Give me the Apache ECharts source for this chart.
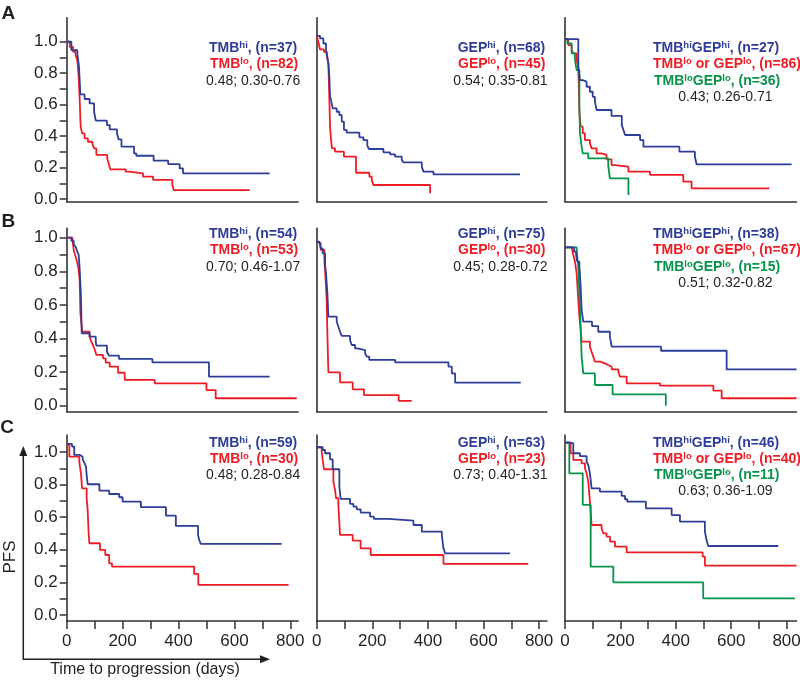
<!DOCTYPE html>
<html><head><meta charset="utf-8">
<script src="https://cdn.jsdelivr.net/npm/echarts@6/dist/echarts.min.js"></script>
<style>html,body{margin:0;padding:0;background:#fff}#c{width:800px;height:681px}</style>
</head><body><div id="c"></div>
<script>
// ---- tick values ----
const xTicks = [0,100,200,300,400,500,600,700,800];
const xTickLabels = [0,200,400,600,800];
const yTicks = [0,0.1,0.2,0.3,0.4,0.5,0.6,0.7,0.8,0.9,1.0];
const yTickLabels = [0,0.2,0.4,0.6,0.8,1.0];

// ---- Row A ----
const A1_hi = [[0,1.0],[16.7,0.947],[38,0.926],[44,0.841],[49,0.665],[64,0.636],[82,0.608],[98,0.555],[104,0.498],[144,0.470],[154,0.443],[180,0.417],[186,0.379],[196,0.333],[241,0.290],[249,0.275],[311,0.244],[363,0.222],[404,0.195],[416,0.163],[726,0.163]];
const A1_lo = [[0,1],[11,0.968],[23,0.936],[32,0.915],[38,0.883],[43,0.777],[46.5,0.629],[50,0.460],[55,0.417],[64,0.386],[76,0.364],[92,0.350],[98,0.322],[106,0.280],[145,0.258],[150,0.227],[156,0.189],[211,0.174],[223,0.163],[273,0.142],[309,0.121],[378,0.089],[383,0.057],[655,0.057]];
const A2_hi = [[0,1.038],[12,1.021],[24,0.989],[33.6,0.947],[38,0.894],[42,0.862],[45.6,0.778],[48,0.650],[51.6,0.629],[57.6,0.576],[72,0.555],[81.5,0.534],[90,0.492],[98,0.439],[108,0.422],[153.5,0.392],[168,0.375],[182,0.339],[188,0.318],[240,0.297],[264,0.284],[282,0.269],[306,0.248],[312,0.233],[378,0.206],[384,0.174],[420,0.157],[731,0.157]];
const A2_lo = [[0,1.038],[6,1.0],[12,0.951],[26,0.936],[36,0.926],[42,0.862],[45.6,0.629],[48,0.460],[51.6,0.375],[55,0.322],[66,0.301],[98,0.269],[141.5,0.167],[189.4,0.142],[198,0.121],[204,0.089],[408,0.036]];
const A3_hi = [[0,1.017],[48,0.841],[54,0.756],[64,0.746],[78,0.714],[90,0.682],[100,0.650],[108,0.619],[114,0.566],[168,0.528],[205,0.470],[211,0.439],[217,0.407],[271,0.375],[283,0.333],[413,0.301],[469,0.269],[475,0.220],[818,0.220]];
const A3_mix = [[0,1.017],[12,0.979],[24,0.947],[30,0.926],[42,0.883],[48,0.841],[52,0.544],[56.6,0.460],[64,0.417],[72,0.375],[90,0.354],[96,0.322],[114,0.290],[132,0.280],[150,0.252],[168,0.216],[180,0.206],[229,0.174],[307,0.153],[427,0.110],[457,0.068],[738,0.068]];
const A3_lo = [[0,1.017],[8.4,0.989],[24,0.926],[36,0.883],[42,0.820],[52,0.608],[54,0.417],[60,0.333],[64,0.290],[84,0.258],[156,0.216],[162,0.131],[229,0.025]];

// ---- Row B ----
const B1_hi = [[0,1.0],[16.7,0.982],[25,0.960],[32,0.946],[38,0.917],[43,0.897],[46.5,0.812],[51,0.649],[53.7,0.431],[82,0.411],[104,0.381],[106,0.357],[144,0.321],[151,0.298],[187,0.278],[306.5,0.258],[509,0.173],[726,0.173]];
const B1_lo = [[0,1],[20,0.990],[25,0.927],[32,0.887],[37,0.857],[42,0.817],[46.5,0.748],[49,0.550],[52.5,0.490],[56,0.440],[82,0.411],[88,0.381],[94,0.361],[101,0.331],[106,0.302],[130,0.282],[139.5,0.256],[154,0.232],[184,0.196],[207.5,0.153],[315,0.133],[500,0.093],[533,0.044],[823,0.044]];
const B2_hi = [[0,0.976],[9.6,0.970],[14.4,0.937],[21.6,0.907],[30,0.837],[33.6,0.788],[38.4,0.669],[42,0.530],[72,0.500],[78,0.470],[84,0.440],[90,0.415],[120,0.391],[126,0.361],[138,0.341],[146,0.331],[174,0.312],[180,0.292],[189,0.272],[282,0.258],[474,0.232],[486,0.192],[498,0.137],[734,0.137]];
const B2_lo = [[0,0.976],[6,0.966],[14.4,0.927],[27.6,0.867],[30,0.808],[36,0.629],[38.4,0.431],[42,0.198],[84,0.139],[129.5,0.097],[170,0.063],[295,0.028],[342,0.028]];
const B3_hi = [[0,0.942],[32.5,0.917],[40,0.897],[44.5,0.857],[52,0.827],[56.6,0.708],[60,0.569],[66,0.500],[97.5,0.474],[120,0.440],[162,0.411],[168.5,0.351],[346.6,0.327],[583.6,0.216],[836,0.216]];
const B3_mix = [[0,0.942],[24,0.937],[30,0.897],[36,0.857],[42,0.788],[48,0.629],[52,0.530],[56.6,0.450],[60,0.381],[90,0.351],[96,0.321],[102,0.292],[108,0.262],[126,0.252],[144,0.242],[156,0.232],[168.5,0.216],[192.5,0.202],[198.6,0.173],[222.6,0.133],[343,0.119],[535.5,0.089],[565.6,0.044],[836,0.044]];
const B3_lo = [[0,0.942],[42,0.927],[48,0.827],[54,0.589],[60,0.292],[66,0.192],[108,0.123],[172,0.067],[364,0.0]];

// ---- Row C ----
const C1_hi = [[0,1.049],[19,1.033],[27,0.982],[47.6,0.971],[57,0.955],[63,0.935],[69,0.910],[71.4,0.859],[75,0.802],[117,0.763],[152,0.742],[188,0.722],[200,0.695],[265.5,0.661],[355,0.609],[390.5,0.546],[470,0.491],[474,0.460],[480,0.436],[769,0.436]];
const C1_lo = [[0,1.043],[9.5,0.971],[45,0.941],[51,0.869],[55,0.777],[71.4,0.716],[75,0.644],[78.6,0.501],[81,0.440],[119,0.399],[138,0.368],[152,0.317],[162,0.297],[456,0.252],[471,0.184],[794,0.184]];
const C2_hi = [[0,1.029],[21.6,1.012],[30,0.992],[48,0.955],[57.6,0.894],[81.5,0.787],[86,0.712],[120,0.681],[132,0.665],[144,0.648],[158,0.628],[192,0.603],[206,0.589],[258,0.579],[348,0.552],[378,0.511],[450,0.491],[456,0.409],[462,0.378],[695,0.378]];
const C2_lo = [[0,1.029],[18,1.002],[21.6,0.951],[26,0.894],[60,0.818],[66,0.767],[69.5,0.716],[78,0.675],[84,0.491],[129.5,0.456],[158,0.409],[194,0.368],[456,0.313],[761,0.313]];
const C3_hi = [[0,1.057],[20.5,1.053],[30,0.992],[54,0.975],[78,0.941],[84,0.920],[90,0.869],[96,0.777],[126,0.757],[204.6,0.730],[216.6,0.710],[225,0.695],[292,0.654],[385,0.613],[415,0.573],[505,0.511],[511,0.460],[517,0.423],[770,0.423]];
const C3_mix = [[0,1.057],[20.5,0.992],[30,0.951],[60,0.930],[72,0.900],[78,0.869],[84,0.818],[90,0.695],[96,0.552],[132,0.532],[138,0.501],[150,0.481],[162.5,0.450],[180.5,0.419],[222.6,0.384],[497,0.358],[505,0.303],[836,0.303]];
const C3_lo = [[0,1.057],[15.6,0.869],[64,0.675],[92.7,0.297],[174.5,0.200],[499,0.102],[830,0.102]];

// ---- legend texts (^...^ = superscript) ----
const legendText = [
  ["TMB^hi^, (n=37)","TMB^lo^, (n=82)","0.48; 0.30-0.76"],
  ["GEP^hi^, (n=68)","GEP^lo^, (n=45)","0.54; 0.35-0.81"],
  ["TMB^hi^GEP^hi^, (n=27)","TMB^lo^ or GEP^lo^, (n=86)","TMB^lo^GEP^lo^, (n=36)","0.43; 0.26-0.71"],
  ["TMB^hi^, (n=54)","TMB^lo^, (n=53)","0.70; 0.46-1.07"],
  ["GEP^hi^, (n=75)","GEP^lo^, (n=30)","0.45; 0.28-0.72"],
  ["TMB^hi^GEP^hi^, (n=38)","TMB^lo^ or GEP^lo^, (n=67)","TMB^lo^GEP^lo^, (n=15)","0.51; 0.32-0.82"],
  ["TMB^hi^, (n=59)","TMB^lo^, (n=30)","0.48; 0.28-0.84"],
  ["GEP^hi^, (n=63)","GEP^lo^, (n=23)","0.73; 0.40-1.31"],
  ["TMB^hi^GEP^hi^, (n=46)","TMB^lo^ or GEP^lo^, (n=40)","TMB^lo^GEP^lo^, (n=11)","0.63; 0.36-1.09"]
];
const panelLetters = ["A","B","C"];
const yAxisTitle = "PFS";
const xAxisTitle = "Time to progression (days)";

const panelCurves = [
  [A1_lo, A1_hi],[A2_lo, A2_hi],[A3_mix, A3_lo, A3_hi],
  [B1_lo, B1_hi],[B2_lo, B2_hi],[B3_mix, B3_lo, B3_hi],
  [C1_lo, C1_hi],[C2_lo, C2_hi],[C3_mix, C3_lo, C3_hi]
];

const BLUE='#2E3D97', RED='#EE1C25', GREEN='#06934A', BLACK='#231F20', AX='#333333';
const FF = '"Liberation Sans", Arial, Helvetica, sans-serif';
const curveColors2 = [RED, BLUE], curveColors3 = [RED, GREEN, BLUE];

// layout
const colLeft = [66.7, 316.7, 565];
const colScale = [0.2795, 0.278, 0.277];
const xMax = [828, 828, 836];
const rowTop = [17.7, 228.3, 435];
const rowBottom = [201.7, 411.7, 621];
const yMin = [-0.0172, -0.036, -0.037];
const yMax = [1.153, 1.056, 1.104];
const legendX = [[209,210,206],[457.7,458,453.3],[653,653,654,678.3]];
const legendY = [[48,64.5,81,97],[234,250.5,267,283],[443,459.5,475.5,491.5]];

const grid=[], xAxis=[], yAxis=[], series=[], graphic=[];
for (let r=0;r<3;r++) for (let c=0;c<3;c++) {
  const idx = r*3+c;
  grid.push({left:colLeft[c], top:rowTop[r], width:xMax[c]*colScale[c], height:rowBottom[r]-rowTop[r], containLabel:false, outerBoundsMode:'none'});
  xAxis.push({gridIndex:idx, type:'value', min:0, max:xMax[c],
    axisLine:{show:true, onZero:false, lineStyle:{color:AX, width:1.6}},
    axisTick:{show:r===2, customValues:xTicks, length:8, lineStyle:{color:AX, width:1.5}},
    axisLabel:{show:r===2, customValues:xTickLabels, fontSize:17, color:BLACK, margin:12, fontFamily:FF},
    splitLine:{show:false}});
  yAxis.push({gridIndex:idx, type:'value', min:yMin[r], max:yMax[r],
    axisLine:{show:true, onZero:false, lineStyle:{color:AX, width:1.6}},
    axisTick:{show:c===0, customValues:yTicks, length:7, lineStyle:{color:AX, width:1.5}},
    axisLabel:{show:c===0, customValues:yTickLabels, fontSize:17, color:BLACK, margin:9, fontFamily:FF, formatter:v=>Number(v).toFixed(1)},
    splitLine:{show:false}});
  const curves = panelCurves[idx];
  const cols = curves.length===3 ? curveColors3 : curveColors2;
  curves.forEach((d,k)=>{
    series.push({type:'line', xAxisIndex:idx, yAxisIndex:idx, step:'end', data:d, symbol:'none', showSymbol:false,
      lineStyle:{color:cols[k], width:1.8}, itemStyle:{color:cols[k]}, silent:true, animation:false});
  });
  // legend text
  const lines = legendText[idx];
  const lcol = lines.length===4 ? [BLUE,RED,GREEN,BLACK] : [BLUE,RED,BLACK];
  const lx = legendX[c];
  lines.forEach((t,k)=>{
    const isHR = k===lines.length-1;
    const color = lcol[k];
    const parts = t.split('^');
    let s='';
    parts.forEach((p,j)=>{ if(p.length) s += (j%2===0? '{n|':'{s|') + p + '}'; });
    graphic.push({type:'text', x: lx[k], y: legendY[r][k], silent:true,
      style:{text:s, align:'left', verticalAlign:'middle', fontFamily:FF, fill:color,
        rich:{
          n:{fontSize:14, fontWeight:isHR?'normal':'bold', fill:color, fontFamily:FF, lineHeight:16},
          s:{fontSize:9.5, fontWeight:'bold', fill:color, fontFamily:FF, lineHeight:11, verticalAlign:'top'}
        }}});
  });
}

// panel letters
[[8.3,13.5],[8.3,221.5],[7,428]].forEach((p,i)=>{
  graphic.push({type:'text', x:p[0], y:p[1], silent:true,
    style:{text:panelLetters[i], fontSize:19, fontWeight:'bold', fill:BLACK, align:'center', verticalAlign:'middle', fontFamily:FF}});
});
// axis titles
graphic.push({type:'text', x:10.5, y:557, rotation:Math.PI/2, silent:true,
  style:{text:yAxisTitle, fontSize:17, fill:BLACK, align:'center', verticalAlign:'middle', fontFamily:FF}});
graphic.push({type:'text', x:145, y:670, silent:true,
  style:{text:xAxisTitle, fontSize:16, fill:BLACK, align:'center', verticalAlign:'middle', fontFamily:FF}});
// arrows
graphic.push({type:'polyline', silent:true, shape:{points:[[23.3,453],[23.3,659.3],[262,659.3]]}, style:{stroke:BLACK, lineWidth:1.5, fill:null}});
graphic.push({type:'polygon', silent:true, shape:{points:[[23.3,446],[19.3,456],[27.3,456]]}, style:{fill:BLACK}});
graphic.push({type:'polygon', silent:true, shape:{points:[[270,659.3],[260,655.3],[260,663.3]]}, style:{fill:BLACK}});

const chart = echarts.init(document.getElementById('c'), null, {renderer:'canvas'});
chart.setOption({backgroundColor:'#fff', animation:false, grid, xAxis, yAxis, series, graphic});
</script></body></html>
